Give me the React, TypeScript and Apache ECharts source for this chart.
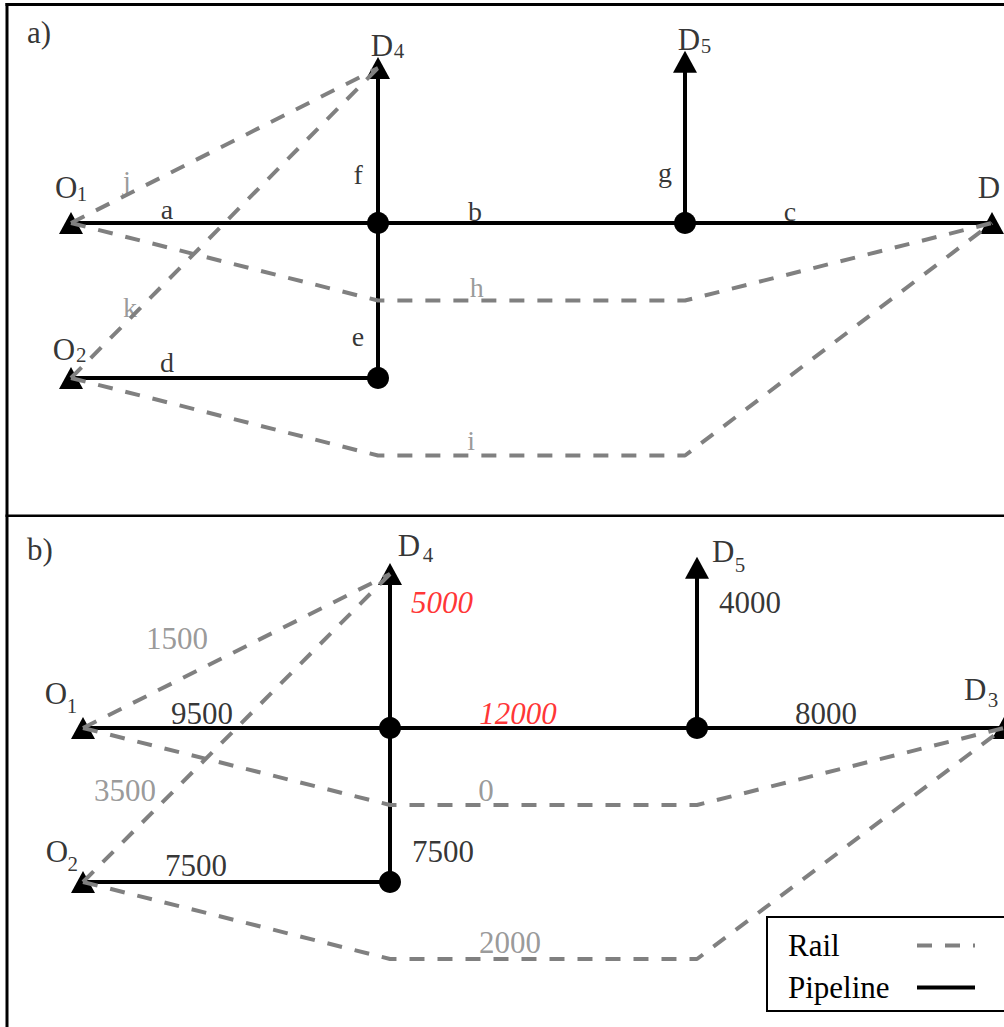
import React, { useEffect, useRef } from "react";
import * as echarts from "echarts";

// ---- network data ----
const nodeIds = ["O1", "O2", "J1", "J2", "J3", "D3", "D4", "D5", "H1", "H2", "I1", "I2"];
const nodeCol = [0, 0, 1, 2, 1, 3, 1, 2, 1, 2, 1, 2];
const nodeRow = [1, 2, 1, 1, 2, 1, 0, -0.04, 1.5, 1.5, 2.5, 2.5];
const triangleNodes = ["O1", "O2", "D3", "D4", "D5"];
const junctionNodes = ["J1", "J2", "J3"];

const edgeIds = ["a", "b", "c", "d", "e", "f", "g", "h", "i", "j", "k"];
const edgeMode = ["Pipeline", "Pipeline", "Pipeline", "Pipeline", "Pipeline", "Pipeline", "Pipeline", "Rail", "Rail", "Rail", "Rail"];
const edgePaths = [
  ["O1", "J1"],
  ["J1", "J2"],
  ["J2", "D3"],
  ["O2", "J3"],
  ["J3", "J1"],
  ["J1", "D4"],
  ["J2", "D5"],
  ["O1", "H1", "H2", "D3"],
  ["O2", "I1", "I2", "D3"],
  ["O1", "D4"],
  ["O2", "D4"],
];
const flowValues = ["9500", "12000", "8000", "7500", "7500", "5000", "4000", "0", "2000", "1500", "3500"];
const saturated = [false, true, false, false, false, true, false, false, false, false, false];

// ---- annotation layout (data units of each panel) ----
const edgeLabelPosA = [
  [0.313, 0.916], [1.316, 0.923], [2.342, 0.923], [0.313, 1.897], [0.935, 1.735],
  [0.935, 0.684], [1.935, 0.677], [1.322, 1.419], [1.303, 2.4], [0.182, 0.729], [0.192, 1.542],
];
const edgeLabelPosB = [
  [0.388, 0.903], [1.417, 0.909], [2.42, 0.909], [0.368, 1.896], [1.173, 1.799],
  [1.169, 0.182], [2.173, 0.182], [1.313, 1.403], [1.391, 2.39], [0.306, 0.416], [0.137, 1.403],
];
// node labels: [main, sub, mainX, mainY, subX, subY]
const nodeLabelsA: [string, string, number, number, number, number][] = [
  ["O", "1", -0.016, 0.774, 0.036, 0.813],
  ["O", "2", -0.023, 1.819, 0.033, 1.852],
  ["D", "4", 1.013, -0.148, 1.068, -0.11],
  ["D", "5", 2.013, -0.181, 2.068, -0.142],
  ["D", "", 2.99, 0.774, 3.2, 0.8],
];
const nodeLabelsB: [string, string, number, number, number, number][] = [
  ["O", "1", -0.088, 0.773, -0.036, 0.857],
  ["O", "2", -0.085, 1.805, -0.033, 1.883],
  ["D", "4", 1.062, -0.188, 1.124, -0.123],
  ["D", "5", 2.085, -0.143, 2.14, -0.058],
  ["D", "3", 2.906, 0.753, 2.964, 0.818],
];
const panelTitles = ["a)", "b)"];
const panelTitlePos = [[-0.104, -0.226], [-0.14, -0.156]];

const FONT = '"Liberation Serif", "Times New Roman", serif';
const GRAY = "#808080";

function pt(id: string): [number, number] {
  const i = nodeIds.indexOf(id);
  return [nodeCol[i], nodeRow[i]];
}

function txtLabel(text: string, size: number, color: string, italic = false) {
  return {
    show: true,
    formatter: text,
    fontSize: size,
    color,
    fontFamily: FONT,
    fontStyle: italic ? "italic" : "normal",
    position: "inside",
    align: "center",
    verticalAlign: "middle",
  };
}

function panelSeries(p: number) {
  const series: any[] = [];
  edgeIds.forEach((id, k) => {
    const rail = edgeMode[k] === "Rail";
    const color = rail ? GRAY : "#000";
    series.push({
      type: "line",
      name: edgeMode[k],
      xAxisIndex: p,
      yAxisIndex: p,
      data: edgePaths[k].map(pt),
      symbol: "none",
      clip: false,
      silent: true,
      z: rail ? 5 : 2,
      itemStyle: { color },
      lineStyle: rail
        ? { color, width: 4, type: [15, 13], cap: "butt" }
        : { color, width: 4, type: "solid" },
    });
  });
  series.push({
    type: "scatter",
    name: "nodes",
    xAxisIndex: p,
    yAxisIndex: p,
    clip: false,
    silent: true,
    z: 3,
    data: [
      ...triangleNodes.map((n) => ({ value: pt(n), symbol: "triangle", symbolSize: [24, 22] })),
      ...junctionNodes.map((n) => ({ value: pt(n), symbol: "circle", symbolSize: 22 })),
    ],
    itemStyle: { color: "#000", opacity: 1 },
  });
  const texts: any[] = [];
  const pos = p === 0 ? edgeLabelPosA : edgeLabelPosB;
  edgeIds.forEach((id, k) => {
    const rail = edgeMode[k] === "Rail";
    const txt = p === 0 ? id : flowValues[k];
    const red = p === 1 && saturated[k];
    texts.push({
      value: pos[k],
      label: txtLabel(txt, p === 0 ? 28 : 31, red ? "#ff0000" : rail ? GRAY : "#000", red),
    });
  });
  const nl = p === 0 ? nodeLabelsA : nodeLabelsB;
  nl.forEach(([m, s, mx, my, sx, sy]) => {
    texts.push({ value: [mx, my], label: txtLabel(m, 31, "#000") });
    if (s) texts.push({ value: [sx, sy], label: txtLabel(s, 21, "#000") });
  });
  texts.push({ value: panelTitlePos[p], label: txtLabel(panelTitles[p], 31, "#000") });
  series.push({
    type: "scatter",
    name: "labels",
    xAxisIndex: p,
    yAxisIndex: p,
    clip: false,
    silent: true,
    z: 6,
    symbol: "circle",
    symbolSize: 1,
    itemStyle: { color: "rgba(0,0,0,0)" },
    label: { show: true, position: "inside", align: "center", verticalAlign: "middle", fontFamily: FONT },
    data: texts,
  });
  return series;
}

export default function App() {
  const ref = useRef<HTMLDivElement>(null);
  useEffect(() => {
    document.body.style.margin = "0";
    const chart = echarts.init(ref.current!, undefined, { renderer: "svg" });
    chart.setOption({
      animation: false,
      backgroundColor: "#fff",
      textStyle: { fontFamily: FONT },
      grid: [
        { left: 71, top: 68, width: 921, height: 387.5 },
        { left: 83, top: 574, width: 921, height: 385 },
      ],
      xAxis: [0, 1].map((g) => ({ type: "value", gridIndex: g, min: 0, max: 3, show: false })),
      yAxis: [0, 1].map((g) => ({ type: "value", gridIndex: g, min: 0, max: 2.5, inverse: true, show: false })),
      legend: {
        data: ["Rail", "Pipeline"],
        orient: "vertical",
        left: 767,
        top: 917,
        align: "right",
        selectedMode: false,
        padding: [13, 80, 8, 21],
        itemGap: 11,
        itemWidth: 58,
        itemHeight: 14,
        borderColor: "#000",
        borderWidth: 2,
        backgroundColor: "#fff",
        formatter: (name: string) => `{t|${name}}`,
        textStyle: {
          fontFamily: FONT,
          fontSize: 31,
          color: "#000",
          rich: { t: { width: 124, align: "left", fontFamily: FONT, fontSize: 31, color: "#000", lineHeight: 34 } },
        },
        itemStyle: { opacity: 0 },
        lineStyle: { width: 4 },
        z: 10,
      },
      graphic: [
        { type: "rect", shape: { x: 5.5, y: 3, width: 3, height: 1030 }, style: { fill: "#000" }, z: 20 },
        { type: "rect", shape: { x: 5.5, y: 3, width: 1010, height: 3 }, style: { fill: "#000" }, z: 20 },
        { type: "rect", shape: { x: 5.5, y: 514.5, width: 1010, height: 2.5 }, style: { fill: "#000" }, z: 20 },
      ],
      series: [...panelSeries(0), ...panelSeries(1)],
    });
    return () => chart.dispose();
  }, []);
  return <div ref={ref} style={{ width: 1004, height: 1027 }} />;
}
